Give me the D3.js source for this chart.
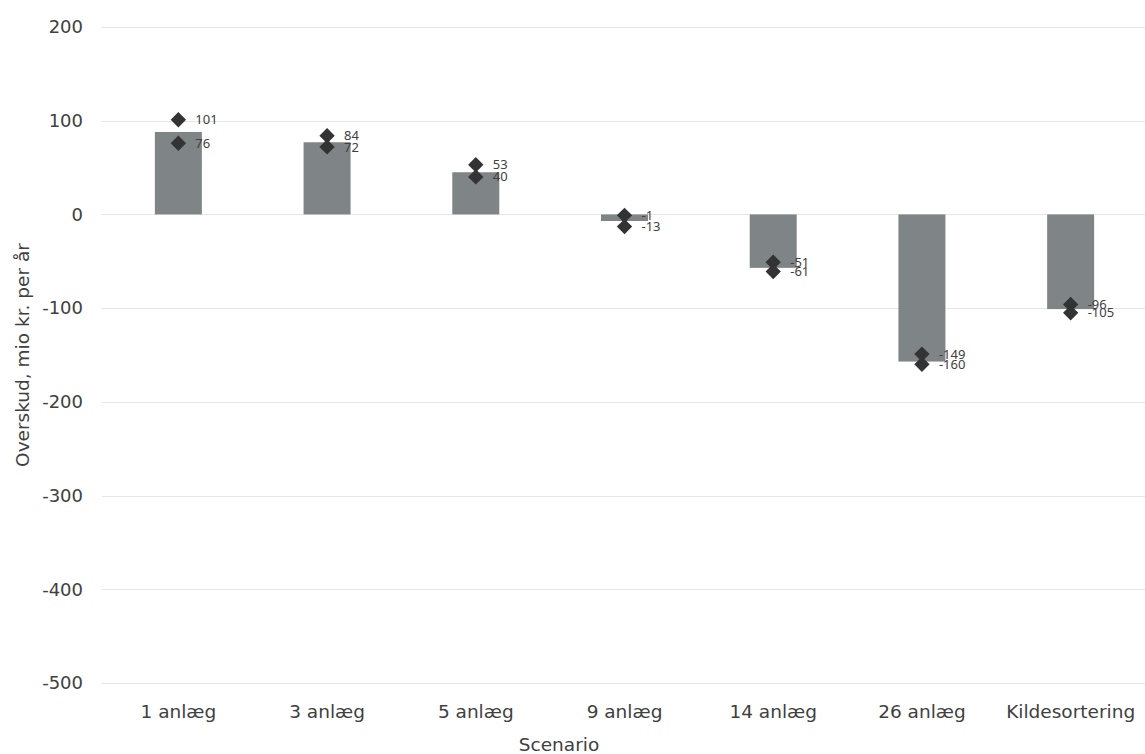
<!DOCTYPE html>
<html>
<head>
<meta charset="utf-8">
<script src="https://cdn.jsdelivr.net/npm/d3@7"></script>
<style>
  body { margin: 0; background: #fff; }
  svg text { font-family: "DejaVu Sans", sans-serif; }
  .val { font-family: "Noto Sans", sans-serif; }
</style>
</head>
<body>
<svg id="chart" width="1145" height="754"></svg>
<script>
// Scenarios and their surplus (mio kr. per år)
const categories = ["1 anlæg", "3 anlæg", "5 anlæg", "9 anlæg", "14 anlæg", "26 anlæg", "Kildesortering"];
const barValues  = [88, 77, 45, -7, -57, -157, -101];
const highValues = [101, 84, 53, -1, -51, -149, -96];
const lowValues  = [76, 72, 40, -13, -61, -160, -105];
const yTicks     = [200, 100, 0, -100, -200, -300, -400, -500];

const svg = d3.select("#chart");
const margin = { top: 27, right: 0, bottom: 71, left: 104 };
const W = 1145, H = 754;
const textColor = "#404040";
const plain = d => String(d); // hyphen-minus, not U+2212

const x = d3.scaleBand()
  .domain(categories)
  .range([margin.left, W - margin.right])
  .paddingInner(0.684)
  .paddingOuter(0.342);

const y = d3.scaleLinear()
  .domain([-500, 200])
  .range([H - margin.bottom, margin.top]);

// Horizontal gridlines
svg.append("g")
  .selectAll("line")
  .data(yTicks)
  .join("line")
  .attr("x1", margin.left - 2)
  .attr("x2", W)
  .attr("y1", d => Math.round(y(d)) + 0.5)
  .attr("y2", d => Math.round(y(d)) + 0.5)
  .attr("stroke", "#e6e6e6")
  .attr("stroke-width", 1);

// Y axis labels
const yAxis = d3.axisLeft(y).tickValues(yTicks).tickFormat(plain).tickSize(0).tickPadding(0);
svg.append("g")
  .attr("transform", `translate(${margin.left - 21},0)`)
  .call(yAxis)
  .call(g => g.select(".domain").remove())
  .call(g => g.selectAll("text")
    .attr("font-size", 18)
    .attr("fill", textColor)
    .style("font-family", "\"DejaVu Sans\", sans-serif"));

// Bars
svg.append("g")
  .selectAll("rect")
  .data(categories.map((c, i) => ({ c, v: barValues[i] })))
  .join("rect")
  .attr("x", d => x(d.c))
  .attr("width", x.bandwidth())
  .attr("y", d => y(Math.max(0, d.v)))
  .attr("height", d => Math.abs(y(d.v) - y(0)))
  .attr("fill", "#7f8487");

// Diamond markers and value labels
const points = [];
categories.forEach((c, i) => {
  points.push({ c, v: highValues[i] });
  points.push({ c, v: lowValues[i] });
});
const diamond = d3.symbol().type(d3.symbolDiamond2).size(150);

svg.append("g")
  .selectAll("path")
  .data(points)
  .join("path")
  .attr("transform", d => `translate(${x(d.c) + x.bandwidth() / 2},${y(d.v)})`)
  .attr("d", diamond)
  .attr("fill", "#333333");

svg.append("g")
  .selectAll("text")
  .data(points)
  .join("text")
  .attr("class", "val")
  .attr("x", d => x(d.c) + x.bandwidth() / 2 + 17)
  .attr("y", d => y(d.v))
  .attr("dy", "0.35em")
  .attr("font-size", 13)
  .attr("fill", textColor)
  .text(d => plain(d.v));

// X axis labels
const xAxis = d3.axisBottom(x).tickSize(0).tickPadding(0);
svg.append("g")
  .attr("transform", `translate(0,${H - margin.bottom + 22})`)
  .call(xAxis)
  .call(g => g.select(".domain").remove())
  .call(g => g.selectAll("text")
    .attr("font-size", 18.5)
    .attr("fill", textColor)
    .style("font-family", "\"DejaVu Sans\", sans-serif"));

// Axis titles
svg.append("text")
  .attr("x", 559)
  .attr("y", 751)
  .attr("text-anchor", "middle")
  .attr("font-size", 18.5)
  .attr("fill", textColor)
  .text("Scenario");

svg.append("text")
  .attr("transform", "translate(29,355) rotate(-90)")
  .attr("text-anchor", "middle")
  .attr("font-size", 18.5)
  .attr("fill", textColor)
  .text("Overskud, mio kr. per år");
</script>
</body>
</html>
